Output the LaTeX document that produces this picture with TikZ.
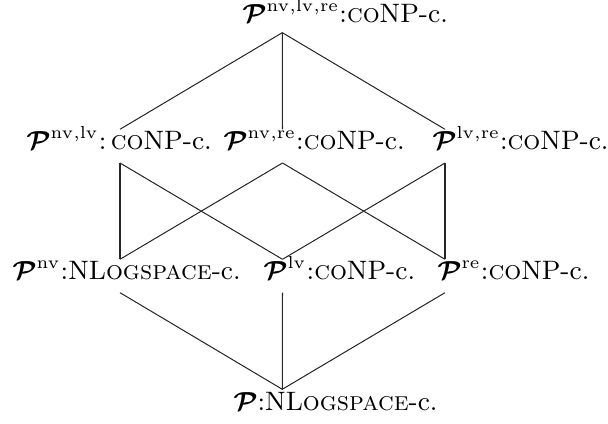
\documentclass[tikz,border=0pt]{standalone}
\usepackage{amsmath}
\newcommand{\Pcal}{\boldsymbol{\mathcal{P}}}
\begin{document}
\begin{tikzpicture}[x=0.345pt,y=-0.345pt,
  lab/.style={anchor=base west,inner sep=0pt,font=\fontsize{9.2}{11}\selectfont},
  edge/.style={line width=0.35pt,black!85}]
\useasboundingbox (0,0) rectangle (608,424);
% nodes
\node[lab] (top)  at (242,22.5) {$\Pcal^{\mathrm{nv,lv,re}}$:\textsc{co}NP-c.};
\node[lab] (nvlv) at (26,150)  {$\Pcal^{\mathrm{nv,lv}}$:\,\textsc{co}NP-c.};
\node[lab] (nvre) at (223,150) {$\Pcal^{\mathrm{nv,re}}$:\textsc{co}NP-c.};
\node[lab] (lvre) at (432,150) {$\Pcal^{\mathrm{lv,re}}$:\textsc{co}NP-c.};
\node[lab] (nv)   at (12,280)  {$\Pcal^{\mathrm{nv}}$:NL\textsc{ogspace}-c.};
\node[lab] (lv)   at (263,280) {$\Pcal^{\mathrm{lv}}$:\textsc{co}NP-c.};
\node[lab] (re)   at (437,280) {$\Pcal^{\mathrm{re}}$:\textsc{co}NP-c.};
\node[lab] (bot)  at (233,411) {$\Pcal$:NL\textsc{ogspace}-c.};
% attachment points
\coordinate (top-s)  at (282.3,32.7);
\coordinate (nvlv-n) at (120,129.3);
\coordinate (nvre-n) at (282.5,129.3);
\coordinate (lvre-n) at (445,129.3);
\coordinate (nvlv-s) at (120,163);
\coordinate (nvre-s) at (282.5,163);
\coordinate (lvre-s) at (445,163);
\coordinate (nv-n)   at (120,259.3);
\coordinate (lv-n)   at (282.5,259.3);
\coordinate (re-n)   at (445,259.3);
\coordinate (nv-s)   at (120,292.7);
\coordinate (lv-s)   at (282.5,292.7);
\coordinate (re-s)   at (445,292.7);
\coordinate (bot-n)  at (282.3,389.3);
% edges
\draw[edge] (nvlv-n) -- (top-s) -- (lvre-n);
\draw[edge] (top-s) -- (nvre-n);
\draw[edge] (nvlv-s) -- (nv-n);
\draw[edge] (nvlv-s) -- (lv-n);
\draw[edge] (nvre-s) -- (nv-n);
\draw[edge] (nvre-s) -- (re-n);
\draw[edge] (lvre-s) -- (lv-n);
\draw[edge] (lvre-s) -- (re-n);
\draw[edge] (nv-s) -- (bot-n) -- (re-s);
\draw[edge] (lv-s) -- (bot-n);
\end{tikzpicture}
\end{document}
